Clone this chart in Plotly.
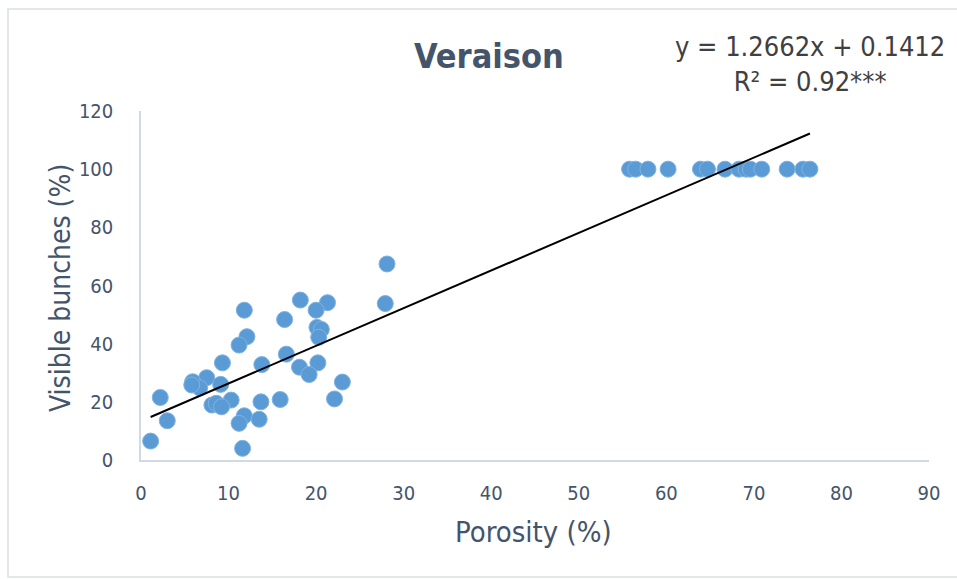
import numpy as np
import plotly.graph_objects as go

# Canopy porosity vs. share of visible bunches at veraison
porosity = [28.1, 27.9, 11.8, 18.2, 21.3, 20.0, 16.4, 20.1, 20.6, 20.3,
            12.1, 11.2, 16.6, 9.3, 13.8, 20.2, 18.1, 19.2, 23.0, 7.5,
            5.9, 6.7, 5.8, 9.1, 2.2, 10.3, 13.7, 15.9, 22.1, 8.1,
            8.6, 9.2, 3.0, 11.8, 11.2, 13.5, 1.1, 11.6,
            55.8, 56.5, 57.9, 60.2, 63.9, 64.7, 66.7, 68.3, 69.1, 69.6,
            70.9, 73.8, 75.6, 76.4]
visible = [67.4, 53.8, 51.5, 55.0, 54.1, 51.5, 48.3, 45.6, 44.9, 42.2,
           42.4, 39.5, 36.4, 33.4, 32.8, 33.4, 31.9, 29.4, 26.8, 28.3,
           26.9, 24.8, 25.8, 26.0, 21.5, 20.6, 20.0, 20.8, 21.0, 18.9,
           19.5, 18.3, 13.5, 15.2, 12.6, 14.0, 6.5, 4.0,
           100, 100, 100, 100, 100, 100, 100, 100, 100, 100,
           100, 100, 100, 100]

x_ticks = [0, 10, 20, 30, 40, 50, 60, 70, 80, 90]
y_ticks = [0, 20, 40, 60, 80, 100, 120]

title_text = "Veraison"
equation_text = "y = 1.2662x + 0.1412<br>R² = 0.92***"
x_title = "Porosity (%)"
y_title = "Visible bunches (%)"

# Linear least-squares trend line through the points
slope, intercept = np.polyfit(porosity, visible, 1)
x_fit = np.array([min(porosity), max(porosity)])
y_fit = slope * x_fit + intercept

W, H = 957, 579
L, R, T, B = 141, 28, 111, 119
pw, ph = W - L - R, H - T - B


def px(xp):
    return (xp - L) / pw


def py(yp):
    return (H - B - yp) / ph


FONT = "DejaVu Sans Condensed, Arial, sans-serif"
TXT = "#44546A"
AXIS = "#D3D9E2"

fig = go.Figure()
fig.add_trace(go.Scatter(
    x=porosity, y=visible, mode="markers",
    marker=dict(size=16, color="#5B9BD5", line=dict(color="#7FB2E0", width=1)),
    showlegend=False,
))
fig.add_trace(go.Scatter(
    x=x_fit, y=y_fit, mode="lines",
    line=dict(color="#000000", width=2),
    showlegend=False,
))

fig.update_layout(
    width=W, height=H,
    margin=dict(l=L, r=R, t=T, b=B),
    paper_bgcolor="white", plot_bgcolor="white",
    font=dict(family=FONT, color=TXT),
    xaxis=dict(range=[0, 90], tickvals=x_ticks, showgrid=False, zeroline=False,
               showline=True, linecolor=AXIS, linewidth=1.5,
               tickfont=dict(size=20, color=TXT), ticklabelstandoff=14),
    yaxis=dict(range=[0, 120], tickvals=y_ticks, showgrid=False, zeroline=False,
               showline=True, linecolor=AXIS, linewidth=1.5,
               tickfont=dict(size=20, color=TXT), ticklabelstandoff=22),
    shapes=[dict(type="rect", xref="paper", yref="paper",
                 x0=px(8), x1=px(990), y0=py(577), y1=py(9),
                 line=dict(color="#DADFE6", width=1.5), layer="below")],
    annotations=[
        dict(text=f"<b>{title_text}</b>", x=px(489), y=py(56), xref="paper", yref="paper",
             showarrow=False, xanchor="center", yanchor="middle",
             font=dict(size=34, color=TXT)),
        dict(text=equation_text, x=px(810), y=py(64), xref="paper", yref="paper",
             showarrow=False, xanchor="center", yanchor="middle", align="center",
             font=dict(size=27, color="#404040")),
        dict(text=x_title, x=px(533), y=py(532), xref="paper", yref="paper",
             showarrow=False, xanchor="center", yanchor="middle",
             font=dict(size=29, color=TXT)),
        dict(text=y_title, x=px(60), y=py(288), xref="paper", yref="paper",
             showarrow=False, xanchor="center", yanchor="middle", textangle=-90,
             font=dict(size=28, color=TXT)),
    ],
)

fig.write_html("out.html")
